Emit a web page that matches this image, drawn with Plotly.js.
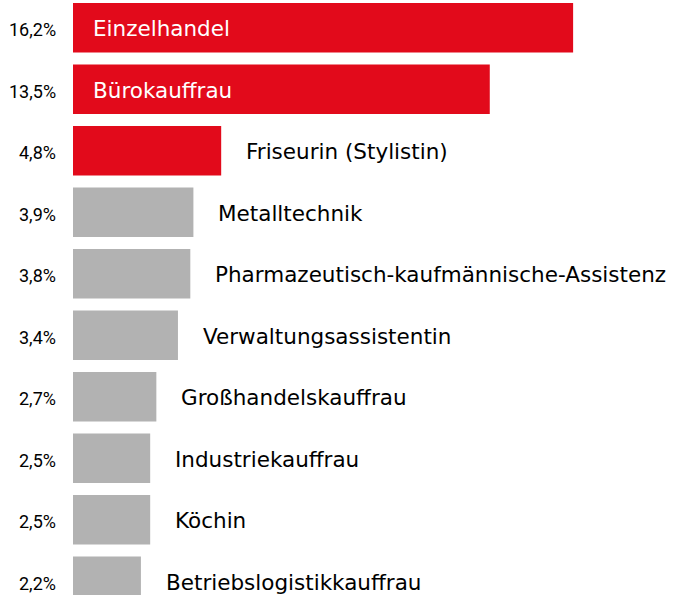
<!DOCTYPE html>
<html>
<head>
<meta charset="utf-8">
<script src="https://cdn.plot.ly/plotly-3.0.1.min.js"></script>
<style>html,body{margin:0;padding:0;background:#fff;}#chart{width:675px;height:595px;}</style>
</head>
<body>
<div id="chart"></div>
<script>
var categories = ["Einzelhandel","Bürokauffrau","Friseurin (Stylistin)","Metalltechnik","Pharmazeutisch-kaufmännische-Assistenz","Verwaltungsassistentin","Großhandelskauffrau","Industriekauffrau","Köchin","Betriebslogistikkauffrau"];
var values = [16.2,13.5,4.8,3.9,3.8,3.4,2.7,2.5,2.5,2.2];
var valueLabels = ["16,2%","13,5%","4,8%","3,9%","3,8%","3,4%","2,7%","2,5%","2,5%","2,2%"];
var highlighted = [true,true,true,false,false,false,false,false,false,false];
var labelInside = [true,true,false,false,false,false,false,false,false,false];

var RED = "#E20A1B", GRAY = "#B2B2B2";

var trace = {
  type: "bar",
  orientation: "h",
  x: values,
  y: categories,
  marker: {color: highlighted.map(function(h){return h ? RED : GRAY;})},
  width: 0.805,
  hoverinfo: "none"
};

var annotations = [];
categories.forEach(function(c, i){
  var inside = labelInside[i];
  annotations.push({
    xref: "x", yref: "y",
    x: inside ? 0 : values[i], y: c,
    text: c, showarrow: false,
    xanchor: "left", yanchor: "middle",
    xshift: inside ? 18 : 23, yshift: -1,
    font: {family: "DejaVu Sans", size: 21.5, color: inside ? "#ffffff" : "#000000"}
  });
  annotations.push({
    xref: "x", yref: "y",
    x: 0, y: c,
    text: valueLabels[i], showarrow: false,
    xanchor: "right", yanchor: "middle",
    xshift: -15, yshift: -2,
    font: {family: "Roboto", size: 18, color: "#000000"}
  });
});

var layout = {
  width: 675, height: 595,
  margin: {l: 73, r: 0, t: 0, b: 0, pad: 0},
  paper_bgcolor: "#ffffff", plot_bgcolor: "#ffffff",
  showlegend: false,
  xaxis: {range: [0, 19.5], visible: false, fixedrange: true},
  yaxis: {type: "category", range: [9.224, -0.451], visible: false, fixedrange: true},
  annotations: annotations
};

Plotly.newPlot("chart", [trace], layout, {displayModeBar: false, staticPlot: true});
</script>
</body>
</html>
